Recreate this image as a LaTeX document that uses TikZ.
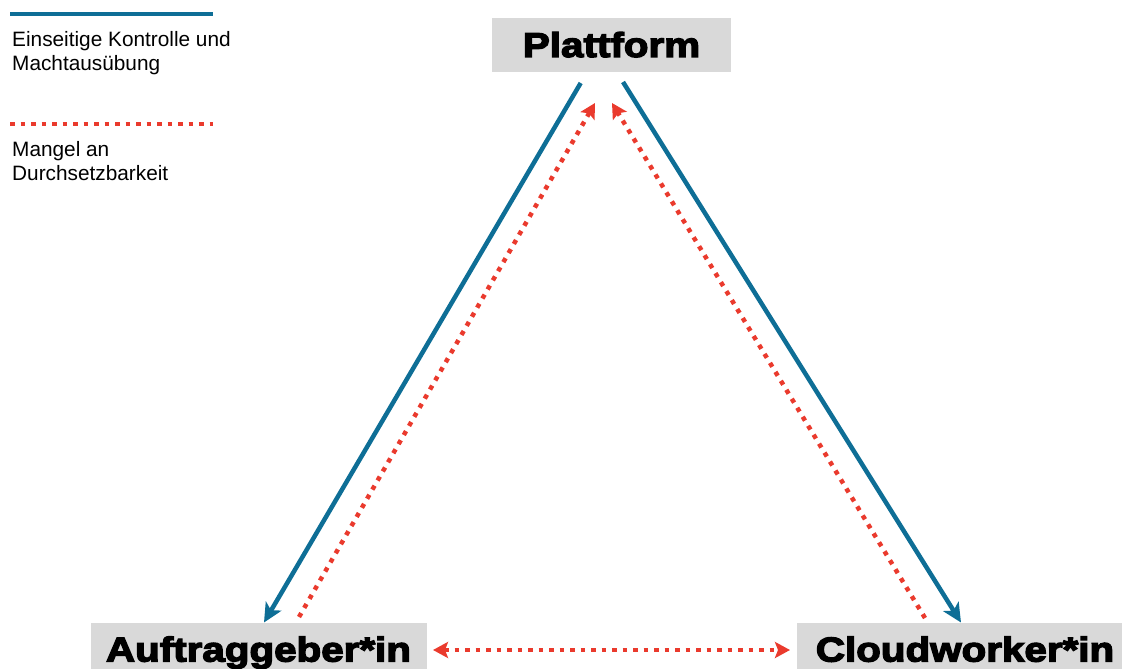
\documentclass[tikz,border=0pt]{standalone}
\usepackage{fontspec}
\setmainfont{Liberation Sans}
\newfontfamily\heavyfont[FakeBold=4,FakeStretch=1.17]{Liberation Sans Bold}
\usetikzlibrary{arrows.meta}
\definecolor{ctrlblue}{RGB}{14,110,150}
\definecolor{lackred}{RGB}{234,58,45}
\definecolor{boxgray}{RGB}{217,217,217}
\tikzset{
  actor/.style={fill=boxgray, draw=none, inner sep=0pt, anchor=north west},
  actortext/.style={font=\heavyfont\fontsize{34.5}{34.5}\selectfont, anchor=base, inner sep=0pt},
  legendtext/.style={font=\fontsize{20.8}{24}\selectfont, anchor=base west, inner sep=0pt, align=left},
  controlline/.style={draw=ctrlblue, line width=4.5pt},
  control/.style={controlline, -{Stealth[length=19pt,width=18pt,inset=5pt]}},
  lackline/.style={draw=lackred, line width=4.5pt, dash pattern=on 4.5pt off 6pt},
  lack/.style={lackline, -{Stealth[length=15pt,width=16pt,inset=3pt]}},
  lackboth/.style={lackline, {Stealth[length=15pt,width=16pt,inset=3pt]}-{Stealth[length=15pt,width=16pt,inset=3pt]}},
}
\begin{document}
\begin{tikzpicture}[x=1pt, y=-1pt]
\useasboundingbox (0,0) rectangle (1122,669);
\clip (0,0) rectangle (1122,669);

% legend (node base = baseline of the last line)
\coordinate (ctrlA) at (10,14);
\coordinate (ctrlB) at (213,14);
\draw[controlline] (ctrlA) -- (ctrlB);
\node[legendtext] (ctrltext) at (12,70.5) {Einseitige Kontrolle und\\Machtausübung};
\coordinate (lackA) at (10,124);
\coordinate (lackB) at (213,124);
\draw[lackline] (lackA) -- (lackB);
\node[legendtext] (lacktext) at (12,180) {Mangel an\\Durchsetzbarkeit};

% actors
\node[actor, minimum width=239pt, minimum height=54pt] (plat) at (492,18) {};
\node[actor, minimum width=336pt, minimum height=60pt] (client) at (91,622.5) {};
\node[actor, minimum width=340pt, minimum height=60pt] (worker) at (797,622.5) {};
\node[actortext] (platlabel) at (611.5,57) {Plattform};
\node[actortext] (clientlabel) at (258.5,661.5) {Auftraggeber*in};
\node[actortext] (workerlabel) at (965,661.5) {Cloudworker*in};

% connector ends
\coordinate (platL) at (580.7,83);
\coordinate (platR) at (623,82);
\coordinate (platIL) at (595,103);
\coordinate (platIR) at (612,103);
\coordinate (clientIn) at (264,622.5);
\coordinate (clientOut) at (299,617);
\coordinate (clientSide) at (433,650);
\coordinate (workerIn) at (961,622.5);
\coordinate (workerOut) at (925,618);
\coordinate (workerSide) at (790,650);

% control from the platform
\draw[control] (platL) -- (clientIn);
\draw[control] (platR) -- (workerIn);
% lack of enforceability
\draw[lack] (clientOut) -- (platIL);
\draw[lack] (workerOut) -- (platIR);
\draw[lackboth] (clientSide) -- (workerSide);
\end{tikzpicture}
\end{document}
